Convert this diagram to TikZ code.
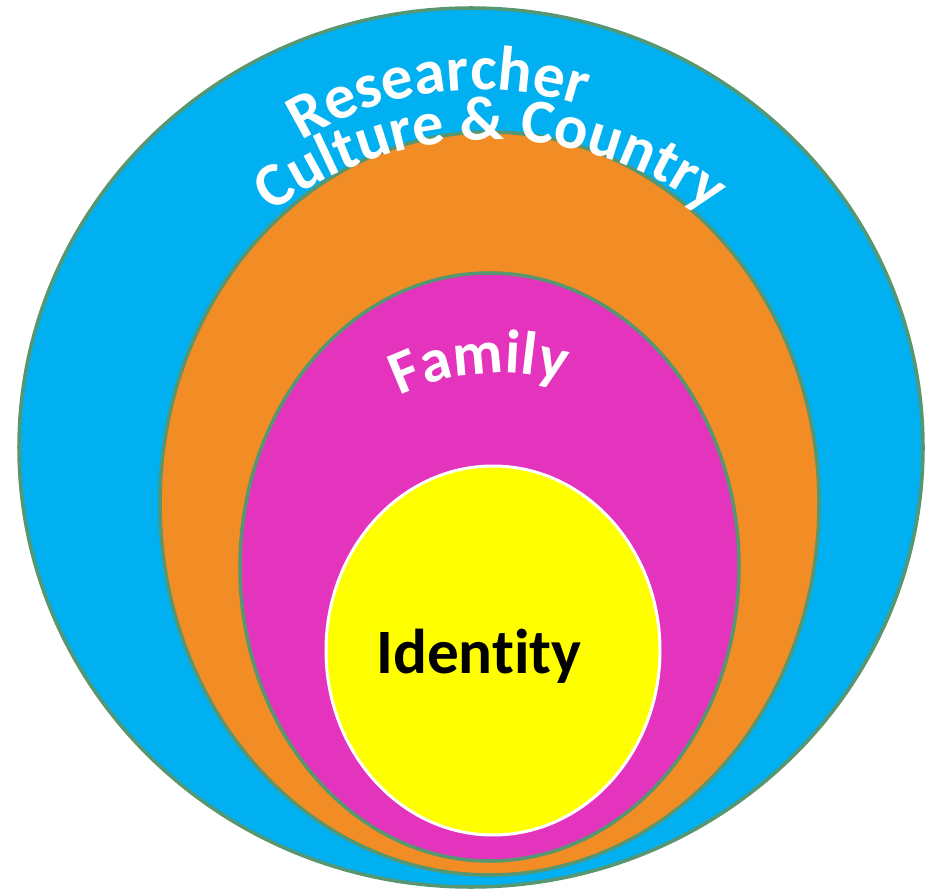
\documentclass[tikz,border=0pt]{standalone}
\usepackage{fontspec}
\newfontfamily\ringfont{Carlito}[Ligatures=NoCommon]
\usetikzlibrary{decorations.text}

\definecolor{ringblue}{RGB}{0,176,240}
\definecolor{ringorange}{RGB}{242,140,36}
\definecolor{ringmagenta}{RGB}{228,52,190}
\definecolor{ringyellow}{RGB}{255,255,0}
\definecolor{ringedge}{RGB}{86,150,112}

\tikzset{
  ring/.style={draw=ringedge,line width=2pt},
}

\begin{document}
\begin{tikzpicture}[x=0.2mm,y=0.2mm]
    \useasboundingbox (0,0) rectangle (925,-892);

    % rings, outside in
    \coordinate (country) at (471,-447.5);
    \coordinate (culture) at (489.5,-503.5);
    \coordinate (family) at (489.5,-567);
    \coordinate (self) at (493,-650.5);

    \filldraw[ring,fill=ringblue] (country) ellipse [x radius=452, y radius=439.5];
    \filldraw[ring,fill=ringorange] (culture) ellipse [x radius=329.5, y radius=371.5];
    \filldraw[ring,fill=ringmagenta] (family) ellipse [x radius=249.5, y radius=294];
    \filldraw[draw=white,line width=1.7pt,fill=ringyellow] (self) ellipse [x radius=167, y radius=184.5];

    % curved labels
    \path[decorate,decoration={text along path,text align=center,text color=white,
        text={|\ringfont\bfseries\fontsize{36}{36}\selectfont|Researcher}}]
        (480,-430) ++(160:340) arc [start angle=160, end angle=34, radius=340];
    \path[decorate,decoration={text along path,text align=center,text color=white,
        text={|\ringfont\bfseries\fontsize{35.5}{35.5}\selectfont|Culture {\&} Country}}]
        (491,-505) ++(150:365) arc [start angle=150, end angle=30, radius=365];
    \path[decorate,decoration={text along path,text align=center,text color=white,
        text={|\ringfont\bfseries\fontsize{35}{35}\selectfont|Family}}]
        (500,-600) ++(155:227) arc [start angle=155, end angle=35, radius=227];

    \node[anchor=base,font=\ringfont\bfseries\fontsize{36}{36}\selectfont] (identity) at (479,-673) {Identity};

\end{tikzpicture}
\end{document}
